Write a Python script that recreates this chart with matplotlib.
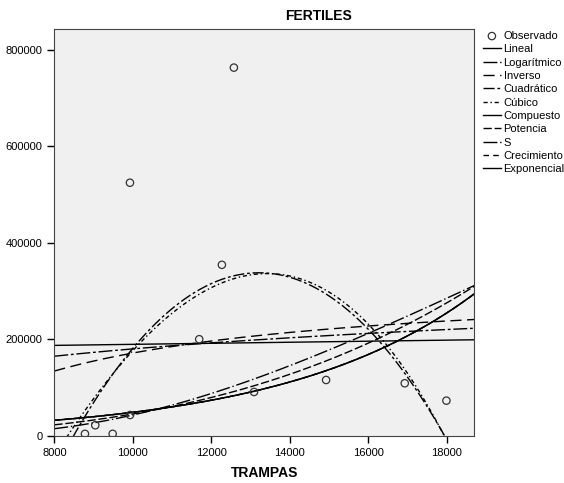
import numpy as np
import matplotlib.pyplot as plt

plt.rcParams['font.family'] = ['Liberation Sans', 'DejaVu Sans']

# observed values
trampas = np.array([8780, 9043, 9486, 9926, 9929, 11690, 12267, 12573,
                    13086, 14921, 16924, 17985])
fertiles = np.array([4500, 22200, 4500, 524400, 43500, 200400, 354400,
                     762700, 91200, 116000, 109200, 73200])

xs = np.linspace(8000, 18700, 400)
lx, ly = np.log(trampas), np.log(fertiles)

def lin(u, v, deg=1):
    return np.polyfit(u, v, deg)

curves = {}
c = lin(trampas, fertiles); curves['Lineal'] = np.polyval(c, xs)
c = lin(lx, fertiles); curves['Logarítmico'] = np.polyval(c, np.log(xs))
c = lin(1 / trampas, fertiles); curves['Inverso'] = np.polyval(c, 1 / xs)
c = lin(trampas, fertiles, 2); curves['Cuadrático'] = np.polyval(c, xs)
# cubic term with the linear and cubic components only (x^2 dropped for tolerance)
t = trampas / 1000.0
A = np.column_stack([np.ones_like(t), t, t ** 3])
cb = np.linalg.lstsq(A, fertiles, rcond=None)[0]
u = xs / 1000.0
curves['Cúbico'] = cb[0] + cb[1] * u + cb[2] * u ** 3
c = lin(trampas, ly); curves['Compuesto'] = np.exp(np.polyval(c, xs))
c = lin(lx, ly); curves['Potencia'] = np.exp(np.polyval(c, np.log(xs)))
c = lin(1 / trampas, ly); curves['S'] = np.exp(np.polyval(c, 1 / xs))
c = lin(trampas, ly); curves['Crecimiento'] = np.exp(np.polyval(c, xs))
c = lin(trampas, ly); curves['Exponencial'] = np.exp(np.polyval(c, xs))

styles = {
    'Lineal': '-',
    'Logarítmico': (0, (10, 2, 2, 2)),
    'Inverso': (0, (8, 4)),
    'Cuadrático': (0, (8, 2, 2, 2)),
    'Cúbico': (0, (3, 2, 1, 2)),
    'Compuesto': '-',
    'Potencia': (0, (6, 2)),
    'S': (0, (10, 2, 1, 2)),
    'Crecimiento': (0, (4, 3)),
    'Exponencial': '-',
}

fig = plt.figure(figsize=(5.64, 4.83), dpi=100)
ax = fig.add_axes([0.0963, 0.0973, 0.745, 0.843])
ax.set_facecolor('#f0f0f0')

handles = []
h = ax.scatter(trampas, fertiles, s=28, facecolors='none', edgecolors='#333333',
               linewidths=0.9, label='Observado', zorder=3)
handles.append(h)
for name, yv in curves.items():
    ln, = ax.plot(xs, yv, color='black', lw=1.0, linestyle=styles[name], label=name)
    handles.append(ln)

ax.set_xlim(8000, 18700)
ax.set_ylim(0, 843000)
ax.set_xticks([8000, 10000, 12000, 14000, 16000, 18000])
ax.set_yticks([0, 200000, 400000, 600000, 800000])
ax.tick_params(direction='out', length=5, labelsize=8, width=1)
for s in ax.spines.values():
    s.set_color('#444444')

ax.set_xlabel('TRAMPAS', fontsize=10, fontweight='bold', labelpad=6)
fig.text(318 / 564, 1 - 16 / 483, 'FERTILES', fontsize=10, fontweight='bold',
         ha='center', va='center')

fig.legend(handles=handles, loc='upper left', bbox_to_anchor=(483 / 564, 1 - 31 / 483),
           frameon=False, fontsize=8, handlelength=1.6, handletextpad=0.25,
           labelspacing=0.3, borderaxespad=0, borderpad=0)

fig.savefig('out.png', dpi=100)
